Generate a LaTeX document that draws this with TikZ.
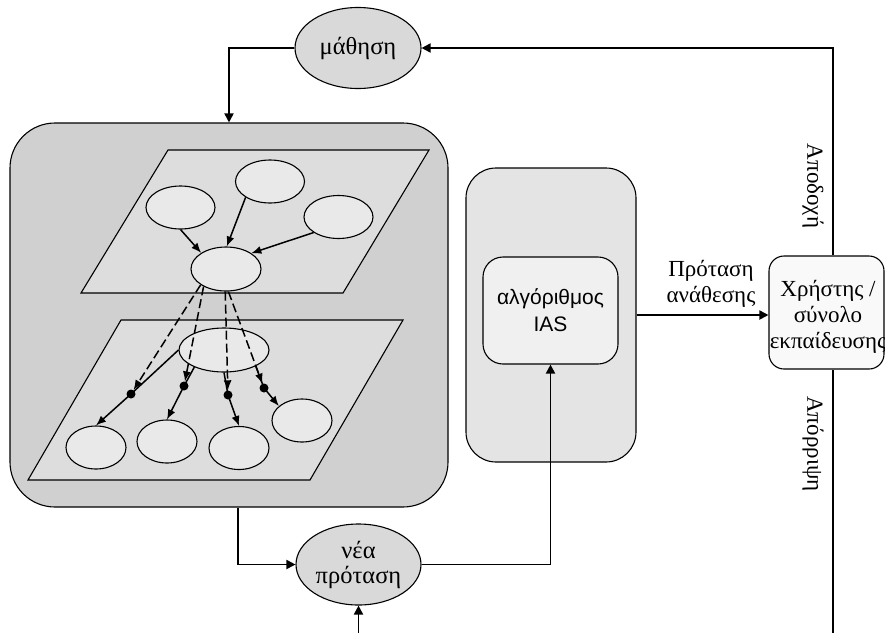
\documentclass[tikz,border=0pt]{standalone}
\usepackage{fontspec}
\setmainfont{Liberation Serif}
\newfontfamily\arialfont{Liberation Sans}
\usetikzlibrary{shapes.geometric,arrows.meta}

\definecolor{coregray}{gray}{0.815}
\definecolor{planegray}{gray}{0.865}
\definecolor{blobgray}{gray}{0.915}
\definecolor{ovalgray}{gray}{0.85}
\definecolor{iasouter}{gray}{0.895}
\definecolor{iasinner}{gray}{0.94}
\definecolor{userfill}{gray}{0.975}

\begin{document}
\begin{tikzpicture}[x=1pt,y=-1pt,
  conn/.style={line width=1.8pt,-{Triangle[length=9pt,width=9pt]}},
  arr/.style={line width=1.5pt,-{Latex[length=10pt,width=8pt]}},
  dasharr/.style={arr,dash pattern=on 9pt off 4pt},
  border/.style={draw,line width=1.1pt},
  plane/.style={border,fill=planegray},
  blob/.style={ellipse,border,fill=blobgray,inner sep=0pt,
    minimum width=69pt,minimum height=43pt},
  oval/.style={ellipse,border,fill=ovalgray,inner sep=0pt,
    minimum width=126pt,minimum height=81pt,align=center,
    font=\fontsize{24.5}{25}\selectfont},
  dot/.style={circle,fill=black,inner sep=0pt,minimum size=9pt},
  serif/.style={font=\fontsize{23}{26}\selectfont},
]
\useasboundingbox (0,0) rectangle (885,632);
\clip (0,0) rectangle (885,632);

% model box with the two layers
\node[border,fill=coregray,rounded corners=45pt,
  minimum width=438pt,minimum height=384pt] (core) at (229,315) {};
\draw[plane] (168,150) -- (429,150) -- (343,293) -- (81,293) -- cycle;
\draw[plane] (121,320) -- (403,320) -- (310,480) -- (28,480) -- cycle;

% upper layer
\node[blob] (u1) at (180.5,207.5) {};
\node[blob] (u2) at (270,181.5) {};
\node[blob] (u3) at (338.5,217) {};
\node[blob,minimum width=70pt,minimum height=44pt] (hubA) at (226,269) {};
\draw[arr] (u1.south) -- (hubA.147);
\draw[arr] (u2.213) -- (hubA.88);
\draw[arr] (u3.212) -- (hubA.32);

% lower layer
\node[blob,minimum width=90pt,minimum height=44pt] (hubB) at (224,350) {};
\node[blob,minimum width=60pt] (b1) at (96,447.5) {};
\node[blob,minimum width=60pt] (b2) at (167,441.5) {};
\node[blob,minimum width=60pt] (b3) at (239,448) {};
\node[blob,minimum width=60pt] (b4) at (302,420.5) {};

% junction dots where the dashed links meet the lower links
\node[dot] (k1) at (131,394) {};
\node[dot] (k2) at (184,386) {};
\node[dot] (k3) at (228,395) {};
\node[dot] (k4) at (264,388) {};

\draw[arr] (hubB.west) -- (k1.center) -- (b1.north);
\draw[arr] (hubB.210) -- (k2.center) -- (b2.north);
\draw[arr] (hubB.south) -- (k3.center) -- (b3.north);
\draw[arr] (hubB.333) -- (k4.center) -- (b4.148);

\draw[dasharr] (hubA.212) -- (k1);
\draw[dasharr] (hubA.218) -- (k2);
\draw[dasharr] (hubA.268) -- (k3);
\draw[dasharr] (hubA.276) -- (k4);

% learning and new proposal
\node[oval] (learn) at (358,48) {μάθηση};
\node[oval,minimum width=125pt] (nea) at (358.5,564.5) {νέα\\πρόταση};

% IAS algorithm
\node[border,fill=iasouter,rounded corners=30pt,
  minimum width=170pt,minimum height=294pt] (iasbox) at (551,315) {};
\node[border,fill=iasinner,rounded corners=20pt,
  minimum width=135pt,minimum height=107pt,align=center,
  font=\arialfont\fontsize{21}{27}\selectfont] (ias) at (550.5,310.5) {αλγόριθμος\\IAS};

% user / training set
\node[border,fill=userfill,rounded corners=15pt,
  minimum width=115pt,minimum height=113pt] (user) at (826.5,312.5) {};
\node[serif,align=center,inner sep=0pt] (usertext) at (828,317) {Χρήστης /\\σύνολο\\εκπαίδευσης};

% labels
\node[serif,align=center,inner sep=0pt] (offer) at (711,284) {Πρόταση\\ανάθεσης};
\node[serif,rotate=-90,inner sep=0pt] (accept) at (813,186) {Αποδοχή};
\node[serif,rotate=-90,inner sep=0pt] (reject) at (813,444) {Απόρριψη};

% connectors
\coordinate (loopbottom) at (833,660);
\draw[conn] ([xshift=6.5pt]user.north) |- (learn.east);
\draw[conn] (learn.west) -| (core.north);
\draw[conn] ([xshift=9pt]core.south) |- (nea.west);
\draw[conn] (nea.east) -| (ias.south);
\draw[conn] (iasbox.east) -- (iasbox.east -| user.west);
\draw[conn] ([xshift=6.5pt]user.south) -- (loopbottom) -| (nea.south);
\end{tikzpicture}
\end{document}
